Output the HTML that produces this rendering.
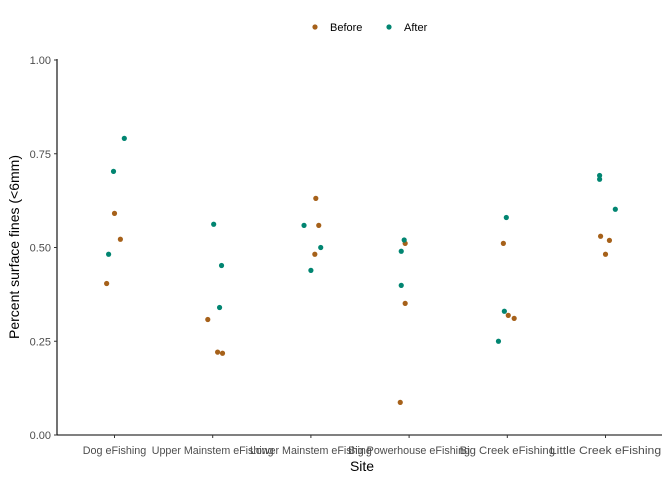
<!DOCTYPE html>
<html><head><meta charset="utf-8"><style>body{margin:0;background:#fff}svg{display:block;font-family:"Liberation Sans",sans-serif}</style></head>
<body>
<svg id="chart" width="672" height="480" xmlns="http://www.w3.org/2000/svg"></svg>
<script>
const categories = ["Dog eFishing","Upper Mainstem eFishing","Lower Mainstem eFishing","Big Powerhouse eFishing","Big Creek eFishing","Little Creek eFishing"];
const beforeValues = [[0.404,0.591,0.522],[0.308,0.221,0.218],[0.631,0.559,0.482],[0.511,0.351,0.087],[0.511,0.319,0.311],[0.53,0.519,0.482]];
const beforeJitter = [[-0.08,0,0.06],[-0.05,0.05,0.1],[0.05,0.08,0.04],[-0.04,-0.04,-0.09],[-0.04,0.01,0.07],[-0.05,0.04,0]];
const afterValues = [[0.482,0.703,0.791],[0.562,0.452,0.340],[0.559,0.5,0.439],[0.52,0.49,0.399],[0.58,0.33,0.25],[0.692,0.682,0.602]];
const afterJitter = [[-0.06,-0.01,0.1],[0.01,0.09,0.07],[-0.07,0.1,0],[-0.05,-0.08,-0.08],[-0.01,-0.03,-0.09],[-0.06,-0.06,0.1]];
const yTicks = [0,0.25,0.5,0.75,1];
const yTickLabels = ["0.00","0.25","0.50","0.75","1.00"];

const svg = document.getElementById('chart');
const NS = "http://www.w3.org/2000/svg";
const L=57, R=662, T=60, B=435;
const X0=114.5, unit=98.2;
const x = (i,j)=> X0 + (i + j)*unit;
const y = v => B - v*(B-T);
function mk(tag, attrs, text){const e=document.createElementNS(NS,tag);for(const k in attrs)e.setAttribute(k,attrs[k]);if(text!==undefined)e.textContent=text;svg.appendChild(e);return e;}

let e;
e=mk('line',{x1:L,y1:T-1,x2:L,y2:B,stroke:'#000','stroke-width':1.1});


e=mk('line',{x1:L,y1:B,x2:R,y2:B,stroke:'#000','stroke-width':1.1});



yTicks.forEach((v,k)=>{
  e=mk('line',{x1:L-3,y1:y(v),x2:L,y2:y(v),stroke:'#333'});
  
  
  e=mk('text',{x:L-6,y:y(v)+4,'text-anchor':'end','font-size':11,fill:'#4d4d4d'},yTickLabels[k]);
  
  
});
categories.forEach((c,i)=>{
  e=mk('line',{x1:x(i,0),y1:B,x2:x(i,0),y2:B+3,stroke:'#333'});
  
  
  e=mk('text',{x:x(i,0),y:B+19,'text-anchor':'middle','font-size':11,fill:'#4d4d4d',textLength:c.length*5.3,lengthAdjust:'spacingAndGlyphs'},c);
  
  
});
e=mk('text',{x:362,y:471,'text-anchor':'middle','font-size':14,fill:'#000'},'Site');


e=mk('text',{x:0,y:0,'text-anchor':'middle','font-size':14,fill:'#000',transform:'translate(19,247) rotate(-90)'},'Percent surface fines (<6mm)');



function series(vals,jit,color,name){
  vals.forEach((arr,i)=>arr.forEach((v,k)=>{
    const p=mk('circle',{cx:x(i,jit[i][k]),cy:y(v),r:2.6,fill:color});
    
    
  }));
}
series(beforeValues,beforeJitter,'#a6611a','before');
series(afterValues,afterJitter,'#018571','after');

e=mk('circle',{cx:315,cy:27,r:2.6,fill:'#a6611a'});


e=mk('text',{x:330,y:31,'font-size':11,fill:'#000'},'Before');


e=mk('circle',{cx:389,cy:27,r:2.6,fill:'#018571'});


e=mk('text',{x:404,y:31,'font-size':11,fill:'#000'},'After');


</script>
</body></html>
